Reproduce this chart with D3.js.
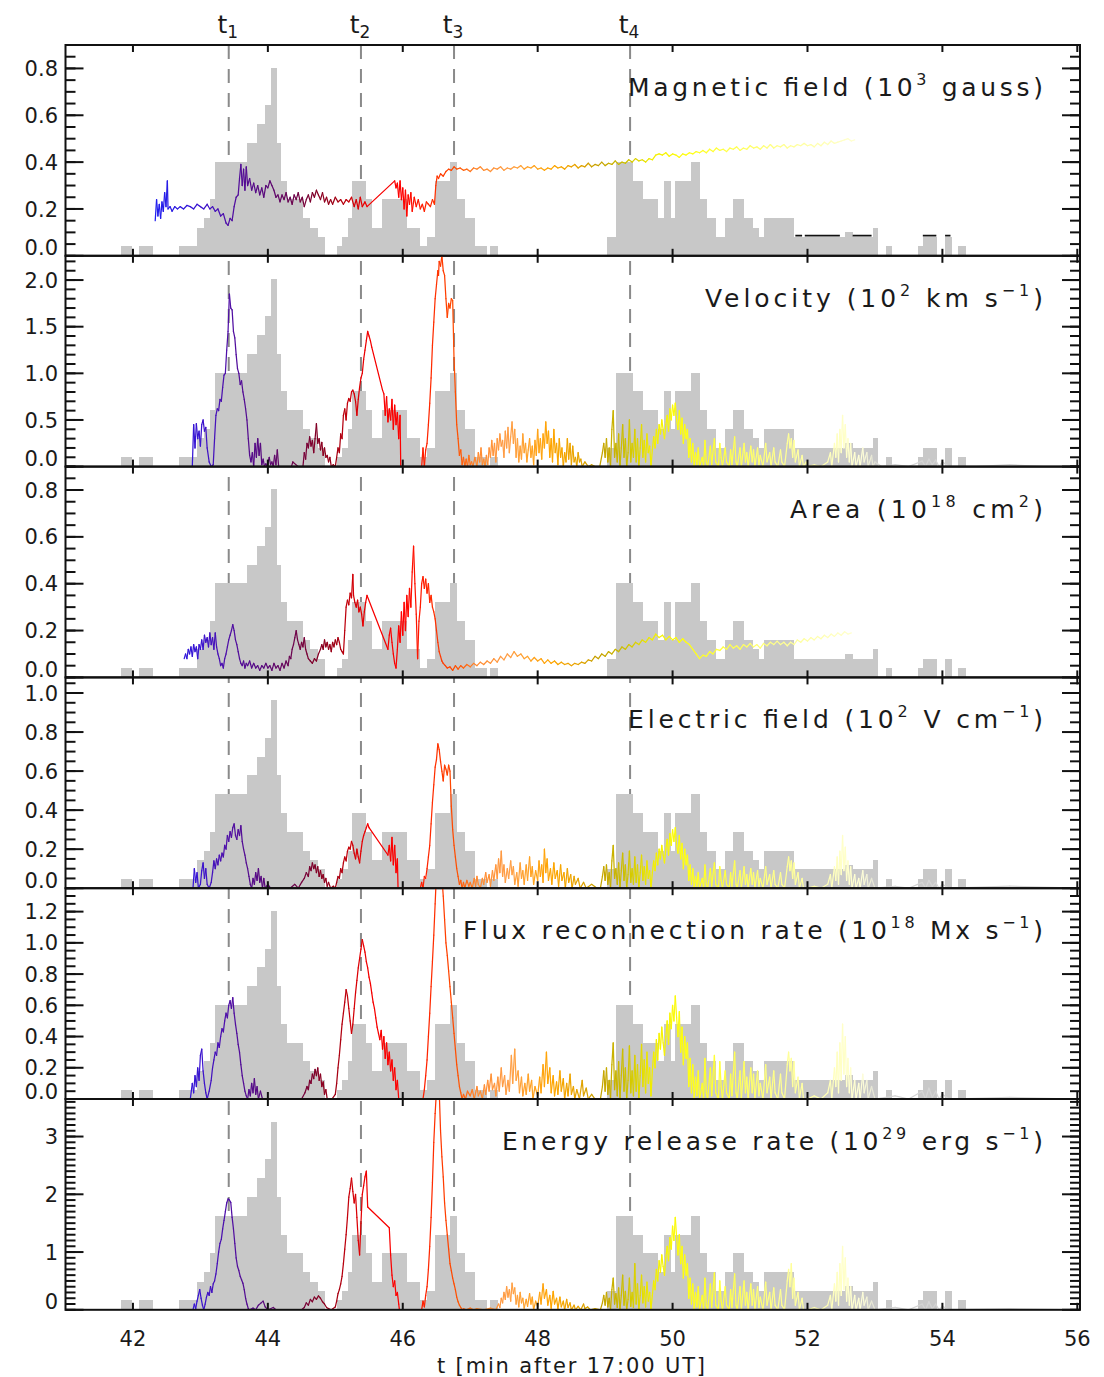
<!DOCTYPE html>
<html>
<head>
<meta charset="utf-8">
<script src="https://cdn.jsdelivr.net/npm/d3@7"></script>
<style>
body { margin: 0; background: #fff; }
text { font-family: "DejaVu Sans", sans-serif; fill: #1a1a1a; }
</style>
</head>
<body>
<script>
// ---- data ----

// x axis
var xTickValues = [42, 44, 46, 48, 50, 52, 54, 56];
var xTitle = "t [min after 17:00 UT]";

// vertical event markers
var markerTimes = [43.42, 45.38, 46.76, 49.37];
var markerSubs = ["1", "2", "3", "4"];

// grey histogram, same in every panel (bin edges in min, counts)
var histEdges = [41.818, 41.981, 42.090, 42.302, 42.682, 42.801, 42.949, 43.053, 43.142, 43.216,
  43.690, 43.839, 43.957, 44.046, 44.135, 44.195, 44.284, 44.432, 44.521, 44.625,
  44.743, 44.847, 45.025, 45.099, 45.188, 45.247, 45.455, 45.543, 45.692, 45.855,
  46.062, 46.255, 46.359, 46.478, 46.700, 46.804, 46.923, 47.071, 47.249, 47.294,
  47.412, 49.023, 49.161, 49.417, 49.565, 49.788, 49.872, 49.971, 50.035, 50.268,
  50.406, 50.514, 50.643, 50.776, 50.891, 51.058, 51.187, 51.285, 51.354, 51.631,
  51.799, 51.937, 52.555, 52.678, 52.966, 53.049, 53.163, 53.247, 53.633, 53.716,
  53.914, 54.037, 54.137, 54.234, 54.344];
var histCounts = [1, 0, 1, 0, 1, 1, 3, 4, 6,
  10, 12, 14, 16, 20, 12, 8, 6, 6, 4,
  3, 2, 0, 1, 2, 4, 8, 6, 3, 6,
  6, 3, 1, 2, 8, 10, 6, 4, 1, 0,
  1, 0, 2, 10, 8, 6, 4, 8, 4, 8,
  10, 6, 4, 2, 4, 6, 4, 3, 2, 4,
  4, 2, 2, 2.5, 2, 3, 0, 1, 0, 1,
  2, 0, 2, 0, 1];
var histFull = 22.42;   // counts that would fill a whole panel

// colour of the curves as a function of time
var colorTimes = [42.3, 43.0, 43.4, 43.9, 44.3, 44.7, 45.0, 45.25, 45.5, 46.0, 46.4, 46.8, 47.1, 47.6,
  48.2, 48.6, 48.9, 49.3, 49.7, 50.2, 50.9, 51.6, 52.3, 52.8, 53.1];
var colorValues = ["#2020f0", "#3a14d0", "#5010a8", "#580a80", "#6a0858", "#800028", "#a00014",
  "#d00008", "#f40000", "#ff0000", "#ff2800", "#ff5000", "#ff8a30", "#ffa048", "#ffa500", "#e6a400",
  "#c4a000", "#cdc000", "#f2ee00", "#ffff10", "#ffff50", "#ffff90", "#ffffb8", "#ffffd8", "#d4d4d4"];

// magnetic field (10^3 G)
var magData = [[42.33,0.15],[42.35,0.24],[42.37,0.17],[42.39,0.22],[42.41,0.16],[42.43,0.23],[42.45,0.19],
  [42.47,0.27],[42.49,0.21],[42.51,0.32],[42.52,0.20],[42.55,0.21],[42.58,0.19],[42.62,0.21],[42.66,0.20],
  [42.70,0.21],[42.75,0.20],[42.80,0.215],[42.85,0.21],[42.90,0.20],[42.95,0.22],[43.00,0.21],[43.05,0.20],
  [43.10,0.22],[43.14,0.20],[43.18,0.21],[43.22,0.19],[43.26,0.20],[43.30,0.17],[43.34,0.18],[43.38,0.14],
  [43.41,0.13],[43.44,0.16],[43.47,0.15],[43.50,0.21],[43.53,0.25],[43.56,0.26],[43.58,0.33],[43.60,0.39],
  [43.62,0.30],[43.64,0.37],[43.66,0.28],[43.68,0.38],[43.70,0.30],[43.73,0.33],[43.76,0.28],[43.79,0.31],
  [43.82,0.27],[43.85,0.30],[43.88,0.26],[43.91,0.29],[43.94,0.25],[43.97,0.30],[44.00,0.29],[44.03,0.32],
  [44.06,0.30],[44.09,0.28],[44.12,0.25],[44.15,0.26],[44.18,0.23],[44.21,0.26],[44.24,0.24],[44.27,0.27],
  [44.30,0.23],[44.33,0.25],[44.36,0.22],[44.39,0.26],[44.42,0.24],[44.45,0.27],[44.48,0.23],[44.51,0.25],
  [44.54,0.21],[44.57,0.24],[44.60,0.26],[44.63,0.23],[44.66,0.27],[44.69,0.25],[44.72,0.28],[44.75,0.26],
  [44.78,0.24],[44.81,0.27],[44.84,0.23],[44.87,0.25],[44.90,0.22],[44.93,0.24],[44.96,0.22],[45.00,0.25],
  [45.04,0.23],[45.08,0.24],[45.12,0.22],[45.16,0.24],[45.20,0.23],[45.24,0.25],[45.28,0.21],[45.31,0.24],
  [45.34,0.20],[45.37,0.25],[45.40,0.21],[45.44,0.23],[45.47,0.21],
  [45.88,0.32],[45.90,0.29],[45.92,0.31],[45.94,0.25],[45.96,0.32],[45.98,0.24],[46.00,0.29],[46.02,0.20],
  [46.04,0.28],[46.06,0.17],[46.08,0.26],[46.10,0.22],[46.12,0.27],[46.14,0.19],[46.17,0.25],[46.20,0.21],
  [46.23,0.24],[46.26,0.20],[46.29,0.22],[46.32,0.19],[46.35,0.23],[46.38,0.22],[46.41,0.21],[46.44,0.24],
  [46.47,0.22],[46.49,0.30],[46.51,0.34],[46.53,0.33],[46.56,0.35],[46.60,0.34],[46.64,0.36],[46.68,0.37],
  [46.72,0.365],[46.76,0.38],[46.80,0.37],[46.85,0.375],[46.90,0.365],[46.95,0.37],[47.00,0.36],[47.05,0.375],
  [47.10,0.37],[47.15,0.38],[47.20,0.365],[47.25,0.37],[47.30,0.36],[47.35,0.375],[47.40,0.37],[47.45,0.38],
  [47.50,0.365],[47.55,0.375],[47.60,0.37],[47.65,0.38],[47.70,0.375],[47.75,0.385],[47.80,0.37],[47.85,0.38],
  [47.90,0.375],[47.95,0.385],[48.00,0.37],[48.05,0.375],[48.10,0.365],[48.15,0.375],[48.20,0.37],[48.25,0.385],
  [48.30,0.375],[48.35,0.38],[48.40,0.37],[48.45,0.385],[48.50,0.38],[48.55,0.39],[48.60,0.375],[48.65,0.385],
  [48.70,0.38],[48.75,0.395],[48.80,0.38],[48.85,0.39],[48.90,0.385],[48.95,0.40],[49.00,0.385],[49.05,0.395],
  [49.10,0.39],[49.15,0.405],[49.20,0.39],[49.25,0.40],[49.30,0.395],[49.35,0.41],[49.40,0.40],[49.45,0.415],
  [49.50,0.405],[49.55,0.41],[49.60,0.40],[49.65,0.415],[49.70,0.41],[49.75,0.43],[49.80,0.435],[49.85,0.43],
  [49.90,0.44],[49.95,0.425],[50.00,0.435],[50.05,0.43],[50.10,0.42],[50.15,0.435],[50.20,0.43],[50.25,0.44],
  [50.30,0.435],[50.35,0.445],[50.40,0.44],[50.45,0.45],[50.50,0.44],[50.55,0.455],[50.60,0.445],[50.65,0.46],
  [50.70,0.45],[50.75,0.455],[50.80,0.445],[50.85,0.46],[50.90,0.455],[50.95,0.465],[51.00,0.45],[51.05,0.46],
  [51.10,0.455],[51.15,0.47],[51.20,0.46],[51.25,0.465],[51.30,0.455],[51.35,0.47],[51.40,0.46],[51.45,0.475],
  [51.50,0.46],[51.55,0.47],[51.60,0.465],[51.65,0.475],[51.70,0.46],[51.75,0.47],[51.80,0.465],[51.85,0.475],
  [51.90,0.47],[51.95,0.48],[52.00,0.47],[52.05,0.475],[52.10,0.465],[52.15,0.48],[52.20,0.47],[52.25,0.485],
  [52.30,0.475],[52.35,0.49],[52.40,0.48],[52.45,0.485],[52.50,0.49],[52.55,0.495],[52.60,0.50],[52.65,0.49],
  [52.70,0.495]];
// short black pieces near the bottom of the magnetic field panel
var magBlackSegs = [[51.82, 51.92], [51.96, 52.48], [52.67, 52.95], [53.71, 53.91], [54.04, 54.12]];
var magBlackLevel = 0.086;

// velocity (10^2 km/s)
var velData = [[42.88,0.0],[42.90,0.45],[42.92,0.20],[42.94,0.46],[42.96,0.30],[42.98,0.38],[43.00,0.22],
  [43.02,0.45],[43.04,0.50],[43.06,0.38],[43.08,0.42],[43.10,0.20],[43.13,0.05],[43.16,0.0],[43.19,0.02],
  [43.21,0.30],[43.23,0.55],[43.25,0.62],[43.27,0.60],[43.29,0.72],[43.31,0.70],[43.33,0.85],[43.35,0.98],
  [43.37,1.00],[43.39,1.25],[43.41,1.45],[43.43,1.85],[43.45,1.70],[43.47,1.68],[43.49,1.45],[43.51,1.38],
  [43.53,1.20],[43.55,1.05],[43.57,1.00],[43.59,0.88],[43.61,0.92],[43.63,0.80],[43.65,0.72],[43.67,0.62],
  [43.69,0.50],[43.71,0.30],[43.73,0.12],[43.75,0.05],[43.77,0.15],[43.79,0.0],[43.81,0.25],[43.83,0.10],
  [43.85,0.30],[43.87,0.12],[43.89,0.25],[43.91,0.02],[43.93,0.08],[43.95,0.0],[43.97,0.03],[43.99,0.0],
  [44.02,0.10],[44.04,0.02],[44.06,0.05],[44.08,0.0],[44.10,0.12],[44.12,0.02],[44.14,0.18],[44.16,0.0],
  [44.35,0.0],[44.37,0.05],[44.45,0.0],[44.52,0.0],[44.54,0.15],[44.56,0.08],[44.58,0.25],[44.60,0.20],
  [44.62,0.32],[44.64,0.22],[44.66,0.28],[44.68,0.15],[44.70,0.30],[44.72,0.46],[44.74,0.25],[44.76,0.30],
  [44.78,0.18],[44.80,0.26],[44.82,0.12],[44.84,0.20],[44.86,0.10],[44.88,0.12],[44.90,0.05],[44.92,0.10],
  [44.94,0.0],[44.97,0.02],[45.00,0.0],[45.02,0.10],[45.04,0.20],[45.06,0.15],[45.08,0.35],[45.10,0.30],
  [45.12,0.55],[45.14,0.62],[45.16,0.50],[45.18,0.68],[45.20,0.73],[45.22,0.70],[45.24,0.80],[45.26,0.82],
  [45.28,0.78],[45.30,0.70],[45.32,0.55],[45.34,0.72],[45.36,0.85],[45.38,0.95],[45.40,1.0],[45.42,1.15],
  [45.44,1.25],[45.46,1.35],[45.48,1.45],[45.50,1.40],[45.52,1.35],[45.54,1.28],[45.70,0.82],[45.72,0.78],
  [45.74,0.55],[45.76,0.75],[45.78,0.48],[45.80,0.62],[45.82,0.50],[45.84,0.72],[45.86,0.40],[45.88,0.66],
  [45.90,0.45],[45.92,0.58],[45.94,0.30],[45.96,0.55],[45.97,0.0],[46.28,0.0],[46.30,0.20],[46.32,0.0],
  [46.34,0.18],[46.36,0.25],[46.38,0.45],[46.40,0.68],[46.42,0.95],[46.44,1.30],[46.46,1.55],[46.48,1.80],
  [46.50,1.95],[46.52,2.10],[46.53,2.05],[46.54,2.20],[46.56,2.15],[46.58,2.26],[46.60,2.10],[46.62,2.05],
  [46.64,1.80],[46.66,1.60],[46.68,1.75],[46.70,1.70],[46.72,1.80],[46.74,1.78],[46.76,1.15],[46.78,0.80],
  [46.80,0.45],[46.82,0.30],[46.84,0.12],[46.86,0.18],[46.88,0.02],[46.90,0.10],[46.92,0.0],[46.94,0.08],
  [46.96,0.0],[46.98,0.12],[47.00,0.02],[47.02,0.05],[47.04,0.0],[47.07,0.10],[47.10,0.0],[47.12,0.15],
  [47.14,0.05],[47.16,0.20],[47.18,0.02],[47.20,0.08],[47.22,0.0],[47.24,0.12],[47.26,0.02],[47.28,0.20],
  [47.30,0.10],[47.32,0.28],[47.34,0.12],[47.36,0.25],[47.38,0.05],[47.40,0.30],[47.42,0.18],[47.44,0.35],
  [47.46,0.22],[47.48,0.28],[47.50,0.10],[47.52,0.38],[47.54,0.20],[47.56,0.42],[47.58,0.15],[47.60,0.32],
  [47.62,0.48],[47.64,0.25],[47.66,0.40],[47.68,0.10],[47.70,0.30],[47.72,0.05],[47.74,0.22],[47.76,0.08],
  [47.78,0.35],[47.80,0.15],[47.82,0.25],[47.84,0.05],[47.86,0.18],[47.88,0.30],[47.90,0.10],[47.92,0.22],
  [47.94,0.02],[47.96,0.28],[47.98,0.12],[48.00,0.40],[48.02,0.15],[48.04,0.30],[48.06,0.08],[48.08,0.35],
  [48.10,0.20],[48.12,0.48],[48.14,0.25],[48.16,0.38],[48.18,0.10],[48.20,0.30],[48.22,0.05],[48.24,0.40],
  [48.26,0.15],[48.28,0.25],[48.30,0.02],[48.32,0.30],[48.34,0.10],[48.36,0.20],[48.38,0.0],[48.40,0.15],
  [48.42,0.05],[48.44,0.30],[48.46,0.08],[48.48,0.25],[48.50,0.02],[48.52,0.22],[48.54,0.05],[48.56,0.10],
  [48.58,0.0],[48.60,0.15],[48.62,0.05],[48.64,0.08],[48.66,0.0],[48.70,0.05],[48.75,0.0],[48.80,0.02],
  [48.85,0.0],[48.92,0.0],[48.96,0.15],[48.98,0.25],[49.00,0.10],[49.02,0.30],[49.04,0.05],[49.06,0.20],
  [49.08,0.0],[49.10,0.40],[49.12,0.60],[49.14,0.10],[49.16,0.25],[49.18,0.05],[49.20,0.35],[49.22,0.0],
  [49.24,0.20],[49.26,0.45],[49.28,0.10],[49.30,0.30],[49.32,0.0],[49.34,0.15],[49.36,0.50],[49.38,0.05],
  [49.40,0.25],[49.42,0.10],[49.44,0.40],[49.46,0.05],[49.48,0.30],[49.50,0.0],[49.52,0.20],[49.54,0.45],
  [49.56,0.10],[49.58,0.28],[49.60,0.05],[49.62,0.35],[49.64,0.15],[49.66,0.22],[49.68,0.0],[49.70,0.18],
  [49.72,0.32],[49.74,0.20],[49.76,0.40],[49.78,0.25],[49.80,0.45],[49.82,0.35],[49.84,0.50],[49.86,0.40],
  [49.88,0.30],[49.90,0.45],[49.92,0.55],[49.94,0.38],[49.96,0.62],[49.98,0.50],[50.00,0.66],[50.02,0.55],
  [50.04,0.68],[50.06,0.50],[50.08,0.40],[50.10,0.60],[50.12,0.35],[50.14,0.52],[50.16,0.25],[50.18,0.45],
  [50.20,0.30],[50.22,0.40],[50.24,0.10],[50.26,0.30],[50.28,0.05],[50.30,0.25],[50.32,0.0],[50.34,0.15],
  [50.36,0.02],[50.38,0.20],[50.40,0.0],[50.44,0.10],[50.46,0.0],[50.48,0.28],[50.50,0.05],[50.52,0.0],
  [50.56,0.22],[50.58,0.02],[50.62,0.30],[50.64,0.05],[50.68,0.0],[50.70,0.25],[50.72,0.10],[50.74,0.0],
  [50.78,0.20],[50.80,0.05],[50.84,0.0],[50.86,0.18],[50.88,0.02],[50.92,0.32],[50.94,0.05],[50.96,0.0],
  [51.00,0.20],[51.02,0.0],[51.06,0.25],[51.08,0.05],[51.10,0.15],[51.12,0.0],[51.16,0.22],[51.18,0.05],
  [51.20,0.18],[51.22,0.0],[51.26,0.20],[51.28,0.02],[51.30,0.12],[51.34,0.0],[51.38,0.25],[51.40,0.05],
  [51.44,0.15],[51.46,0.0],[51.50,0.20],[51.52,0.05],[51.56,0.0],[51.60,0.18],[51.62,0.05],[51.66,0.0],
  [51.70,0.25],[51.72,0.35],[51.74,0.20],[51.76,0.30],[51.78,0.10],[51.80,0.28],[51.82,0.05],[51.86,0.18],
  [51.88,0.0],[51.92,0.12],[51.94,0.0],[51.98,0.05],[52.00,0.0],[52.10,0.02],[52.20,0.0],[52.30,0.05],
  [52.34,0.15],[52.36,0.0],[52.40,0.25],[52.42,0.10],[52.44,0.35],[52.46,0.05],[52.48,0.40],[52.50,0.15],
  [52.52,0.55],[52.54,0.20],[52.56,0.45],[52.58,0.10],[52.60,0.30],[52.62,0.05],[52.64,0.25],[52.66,0.0],
  [52.70,0.15],[52.72,0.0],[52.76,0.12],[52.78,0.0],[52.82,0.20],[52.84,0.05],[52.88,0.15],[52.90,0.0],
  [52.95,0.12],[52.97,0.0],[53.00,0.05],[53.10,0.0],[53.30,0.02],[53.50,0.0],[53.70,0.06],[53.75,0.0],
  [53.80,0.08],[53.85,0.02],[53.90,0.07],[53.95,0.0],[54.00,0.05],[54.10,0.0],[54.50,0.0],[55.00,0.02],
  [55.50,0.0],[56.00,0.0]];

// area (10^18 cm^2)
var areaData = [[42.76,0.08],[42.78,0.10],[42.80,0.08],[42.82,0.12],[42.84,0.10],[42.86,0.13],[42.88,0.09],
  [42.90,0.14],[42.92,0.11],[42.94,0.13],[42.96,0.08],[42.98,0.14],[43.00,0.12],[43.02,0.16],[43.04,0.12],
  [43.06,0.18],[43.08,0.15],[43.10,0.17],[43.12,0.13],[43.14,0.19],[43.16,0.14],[43.18,0.17],[43.20,0.12],
  [43.22,0.19],[43.24,0.13],[43.26,0.10],[43.28,0.08],[43.30,0.05],[43.32,0.06],[43.34,0.04],[43.36,0.08],
  [43.38,0.10],[43.40,0.13],[43.42,0.16],[43.44,0.18],[43.46,0.20],[43.48,0.225],[43.50,0.20],[43.52,0.16],
  [43.54,0.14],[43.56,0.11],[43.58,0.08],[43.60,0.06],[43.62,0.05],[43.64,0.07],[43.66,0.04],[43.68,0.06],
  [43.70,0.05],[43.73,0.07],[43.76,0.04],[43.79,0.06],[43.82,0.04],[43.85,0.05],[43.88,0.03],[43.91,0.05],
  [43.94,0.04],[43.97,0.06],[44.00,0.04],[44.03,0.05],[44.06,0.03],[44.09,0.06],[44.12,0.04],[44.15,0.05],
  [44.18,0.03],[44.21,0.06],[44.24,0.04],[44.27,0.07],[44.30,0.05],[44.32,0.09],[44.34,0.08],[44.36,0.12],
  [44.38,0.14],[44.40,0.17],[44.42,0.20],[44.44,0.16],[44.46,0.14],[44.48,0.12],[44.50,0.15],[44.52,0.13],
  [44.54,0.17],[44.56,0.12],[44.58,0.10],[44.60,0.08],[44.63,0.07],[44.66,0.06],[44.69,0.08],[44.72,0.07],
  [44.75,0.10],[44.78,0.12],[44.80,0.14],[44.82,0.12],[44.84,0.16],[44.86,0.13],[44.88,0.15],[44.90,0.12],
  [44.92,0.14],[44.94,0.11],[44.96,0.15],[44.98,0.13],[45.00,0.16],[45.02,0.14],[45.04,0.17],[45.06,0.15],
  [45.08,0.12],[45.10,0.11],[45.12,0.10],[45.14,0.20],[45.16,0.30],[45.18,0.33],[45.20,0.31],[45.22,0.36],
  [45.24,0.34],[45.26,0.44],[45.27,0.35],[45.29,0.32],[45.31,0.30],[45.33,0.33],[45.35,0.28],[45.37,0.30],
  [45.39,0.27],[45.41,0.22],[45.43,0.28],[45.45,0.32],[45.47,0.35],[45.78,0.12],[45.80,0.18],[45.82,0.21],
  [45.84,0.15],[45.86,0.10],[45.88,0.06],[45.90,0.04],[45.92,0.12],[45.94,0.22],[45.96,0.15],[45.98,0.28],
  [46.00,0.18],[46.02,0.32],[46.04,0.20],[46.06,0.35],[46.08,0.26],[46.10,0.38],[46.12,0.30],[46.14,0.45],
  [46.16,0.56],[46.18,0.40],[46.20,0.27],[46.22,0.08],[46.24,0.24],[46.26,0.30],[46.28,0.40],[46.30,0.43],
  [46.32,0.38],[46.34,0.42],[46.36,0.36],[46.38,0.40],[46.40,0.32],[46.42,0.35],[46.44,0.30],[46.46,0.28],
  [46.48,0.25],[46.50,0.20],[46.52,0.15],[46.54,0.11],[46.56,0.09],[46.58,0.07],[46.60,0.06],[46.63,0.05],
  [46.66,0.04],[46.70,0.045],[46.74,0.03],[46.78,0.05],[46.82,0.035],[46.86,0.05],[46.90,0.04],[46.95,0.055],
  [47.00,0.045],[47.05,0.06],[47.10,0.05],[47.15,0.065],[47.20,0.055],[47.25,0.07],[47.30,0.06],[47.35,0.08],
  [47.40,0.065],[47.45,0.09],[47.50,0.075],[47.55,0.10],[47.60,0.085],[47.65,0.11],[47.70,0.09],[47.75,0.10],
  [47.80,0.08],[47.85,0.09],[47.90,0.07],[47.95,0.085],[48.00,0.07],[48.05,0.08],[48.10,0.06],[48.15,0.075],
  [48.20,0.06],[48.25,0.07],[48.30,0.055],[48.35,0.065],[48.40,0.055],[48.45,0.06],[48.50,0.05],[48.55,0.06],
  [48.60,0.055],[48.65,0.065],[48.70,0.06],[48.75,0.075],[48.80,0.07],[48.85,0.09],[48.90,0.08],[48.95,0.10],
  [49.00,0.09],[49.05,0.11],[49.10,0.10],[49.15,0.12],[49.20,0.11],[49.25,0.13],[49.30,0.12],[49.35,0.14],
  [49.40,0.13],[49.45,0.15],[49.50,0.14],[49.55,0.16],[49.60,0.15],[49.65,0.17],[49.70,0.16],[49.75,0.185],
  [49.80,0.17],[49.85,0.18],[49.90,0.16],[49.95,0.175],[50.00,0.16],[50.05,0.17],[50.10,0.15],[50.15,0.165],
  [50.20,0.15],[50.25,0.14],[50.30,0.12],[50.35,0.10],[50.40,0.08],[50.45,0.095],[50.50,0.09],[50.55,0.11],
  [50.60,0.10],[50.65,0.12],[50.70,0.115],[50.75,0.13],[50.80,0.12],[50.85,0.14],[50.90,0.125],[50.95,0.135],
  [51.00,0.12],[51.05,0.14],[51.10,0.13],[51.15,0.145],[51.20,0.13],[51.25,0.14],[51.30,0.125],[51.35,0.145],
  [51.40,0.135],[51.45,0.15],[51.50,0.14],[51.55,0.155],[51.60,0.14],[51.65,0.15],[51.70,0.135],[51.75,0.15],
  [51.80,0.14],[51.85,0.16],[51.90,0.15],[51.95,0.165],[52.00,0.155],[52.05,0.17],[52.10,0.16],[52.15,0.175],
  [52.20,0.165],[52.25,0.18],[52.30,0.17],[52.35,0.185],[52.40,0.175],[52.45,0.19],[52.50,0.18],[52.55,0.195],
  [52.60,0.185],[52.65,0.19]];

// electric field (10^2 V/cm)
var efieldData = [[42.89,0.0],[42.91,0.10],[42.93,0.03],[42.95,0.08],[42.97,0.0],[43.00,0.02],[43.02,0.09],
  [43.04,0.13],[43.06,0.05],[43.08,0.10],[43.10,0.02],[43.13,0.0],[43.16,0.03],[43.18,0.08],[43.20,0.14],
  [43.22,0.10],[43.24,0.15],[43.26,0.12],[43.28,0.17],[43.30,0.14],[43.32,0.18],[43.34,0.16],[43.36,0.22],
  [43.38,0.20],[43.40,0.27],[43.42,0.24],[43.44,0.29],[43.46,0.26],[43.48,0.31],[43.50,0.33],[43.52,0.27],
  [43.54,0.25],[43.56,0.30],[43.58,0.27],[43.60,0.32],[43.62,0.24],[43.64,0.20],[43.66,0.17],[43.68,0.13],
  [43.70,0.10],[43.72,0.06],[43.74,0.02],[43.76,0.0],[43.78,0.05],[43.80,0.02],[43.82,0.08],[43.84,0.04],
  [43.86,0.10],[43.88,0.03],[43.90,0.06],[43.92,0.0],[43.94,0.05],[43.96,0.0],[44.00,0.02],[44.04,0.0],
  [44.33,0.0],[44.40,0.02],[44.45,0.0],[44.50,0.03],[44.54,0.05],[44.57,0.08],[44.60,0.06],[44.62,0.11],
  [44.64,0.09],[44.66,0.13],[44.68,0.10],[44.70,0.12],[44.72,0.08],[44.74,0.11],[44.76,0.06],[44.78,0.09],
  [44.80,0.05],[44.82,0.07],[44.84,0.03],[44.86,0.05],[44.88,0.01],[44.90,0.03],[44.93,0.0],[44.97,0.01],
  [45.00,0.0],[45.02,0.03],[45.04,0.06],[45.06,0.05],[45.08,0.10],[45.10,0.08],[45.12,0.13],[45.14,0.16],
  [45.16,0.14],[45.18,0.19],[45.20,0.21],[45.22,0.20],[45.24,0.24],[45.26,0.22],[45.28,0.18],[45.30,0.15],
  [45.32,0.20],[45.34,0.16],[45.36,0.13],[45.38,0.19],[45.40,0.24],[45.42,0.27],[45.44,0.29],[45.46,0.31],
  [45.48,0.33],[45.50,0.31],[45.78,0.17],[45.80,0.22],[45.82,0.14],[45.84,0.26],[45.86,0.12],[45.88,0.22],
  [45.90,0.08],[45.92,0.15],[45.93,0.0],[46.26,0.0],[46.28,0.03],[46.30,0.0],[46.32,0.06],[46.34,0.05],
  [46.36,0.10],[46.38,0.16],[46.40,0.22],[46.42,0.33],[46.44,0.44],[46.46,0.53],[46.48,0.62],[46.50,0.66],
  [46.52,0.74],[46.54,0.71],[46.56,0.65],[46.58,0.60],[46.60,0.55],[46.62,0.63],[46.64,0.61],[46.66,0.58],
  [46.68,0.63],[46.70,0.60],[46.72,0.42],[46.74,0.30],[46.76,0.22],[46.78,0.16],[46.80,0.10],[46.82,0.06],
  [46.84,0.02],[46.86,0.04],[46.88,0.0],[46.90,0.03],[46.92,0.0],[46.95,0.04],[46.98,0.01],[47.00,0.03],
  [47.03,0.0],[47.06,0.05],[47.08,0.01],[47.10,0.06],[47.12,0.02],[47.15,0.0],[47.18,0.05],[47.20,0.02],
  [47.23,0.08],[47.25,0.03],[47.28,0.07],[47.30,0.01],[47.33,0.09],[47.35,0.04],[47.38,0.12],[47.40,0.05],
  [47.42,0.15],[47.44,0.08],[47.46,0.19],[47.48,0.06],[47.50,0.12],[47.52,0.03],[47.55,0.10],[47.57,0.05],
  [47.60,0.14],[47.62,0.07],[47.64,0.11],[47.66,0.02],[47.69,0.08],[47.71,0.01],[47.74,0.13],[47.76,0.05],
  [47.78,0.09],[47.80,0.02],[47.83,0.12],[47.85,0.04],[47.88,0.16],[47.90,0.06],[47.92,0.11],[47.94,0.02],
  [47.97,0.09],[48.00,0.04],[48.02,0.14],[48.04,0.06],[48.06,0.12],[48.08,0.03],[48.10,0.20],[48.12,0.08],
  [48.14,0.15],[48.16,0.04],[48.19,0.10],[48.21,0.02],[48.24,0.13],[48.26,0.05],[48.29,0.09],[48.31,0.01],
  [48.34,0.12],[48.36,0.04],[48.39,0.08],[48.41,0.0],[48.44,0.10],[48.46,0.03],[48.49,0.07],[48.51,0.0],
  [48.54,0.06],[48.56,0.02],[48.60,0.05],[48.63,0.0],[48.68,0.03],[48.72,0.0],[48.80,0.02],[48.88,0.0],
  [48.93,0.0],[48.96,0.06],[48.98,0.11],[49.00,0.04],[49.02,0.12],[49.04,0.02],[49.06,0.08],[49.08,0.0],
  [49.10,0.14],[49.12,0.22],[49.14,0.05],[49.16,0.10],[49.18,0.02],[49.20,0.13],[49.22,0.0],[49.24,0.09],
  [49.26,0.18],[49.28,0.04],[49.30,0.12],[49.32,0.0],[49.34,0.07],[49.36,0.19],[49.38,0.03],[49.40,0.10],
  [49.42,0.02],[49.44,0.16],[49.46,0.03],[49.48,0.12],[49.50,0.0],[49.52,0.08],[49.54,0.17],[49.56,0.04],
  [49.58,0.11],[49.60,0.02],[49.62,0.14],[49.64,0.05],[49.66,0.09],[49.68,0.0],[49.70,0.08],[49.72,0.14],
  [49.74,0.09],[49.76,0.18],[49.78,0.12],[49.80,0.20],[49.82,0.15],[49.84,0.22],[49.86,0.17],[49.88,0.13],
  [49.90,0.20],[49.92,0.25],[49.94,0.17],[49.96,0.28],[49.98,0.22],[50.00,0.30],[50.02,0.24],[50.04,0.31],
  [50.06,0.22],[50.08,0.18],[50.10,0.27],[50.12,0.15],[50.14,0.23],[50.16,0.10],[50.18,0.20],[50.20,0.12],
  [50.22,0.17],[50.24,0.04],[50.26,0.12],[50.28,0.02],[50.30,0.10],[50.32,0.0],[50.34,0.06],[50.36,0.01],
  [50.38,0.08],[50.40,0.0],[50.44,0.05],[50.46,0.0],[50.48,0.12],[50.50,0.02],[50.52,0.0],[50.56,0.10],
  [50.58,0.01],[50.62,0.13],[50.64,0.02],[50.68,0.0],[50.70,0.11],[50.72,0.04],[50.74,0.0],[50.78,0.09],
  [50.80,0.02],[50.84,0.0],[50.86,0.08],[50.88,0.01],[50.92,0.14],[50.94,0.02],[50.96,0.0],[51.00,0.09],
  [51.02,0.0],[51.06,0.11],[51.08,0.02],[51.10,0.07],[51.12,0.0],[51.16,0.10],[51.18,0.02],[51.20,0.08],
  [51.22,0.0],[51.26,0.09],[51.28,0.01],[51.30,0.05],[51.34,0.0],[51.38,0.11],[51.40,0.02],[51.44,0.07],
  [51.46,0.0],[51.50,0.09],[51.52,0.02],[51.56,0.0],[51.60,0.08],[51.62,0.02],[51.66,0.0],[51.70,0.11],
  [51.72,0.16],[51.74,0.09],[51.76,0.14],[51.78,0.05],[51.80,0.13],[51.82,0.02],[51.86,0.08],[51.88,0.0],
  [51.92,0.05],[51.94,0.0],[52.00,0.0],[52.10,0.01],[52.20,0.0],[52.30,0.02],[52.34,0.07],[52.36,0.0],
  [52.40,0.11],[52.42,0.04],[52.44,0.16],[52.46,0.02],[52.48,0.19],[52.50,0.07],[52.52,0.27],[52.54,0.09],
  [52.56,0.21],[52.58,0.04],[52.60,0.14],[52.62,0.02],[52.64,0.11],[52.66,0.0],[52.70,0.07],[52.72,0.0],
  [52.76,0.05],[52.78,0.0],[52.82,0.09],[52.84,0.02],[52.88,0.07],[52.90,0.0],[52.95,0.05],[53.00,0.0],
  [53.30,0.01],[53.50,0.0],[53.70,0.03],[53.75,0.0],[53.80,0.04],[53.85,0.01],[53.90,0.03],[53.95,0.0],
  [54.00,0.02],[54.10,0.0],[55.00,0.01],[56.00,0.0]];

// flux reconnection rate (10^18 Mx/s)
var fluxData = [[42.85,0.0],[42.88,0.10],[42.90,0.04],[42.92,0.15],[42.94,0.08],[42.96,0.20],[42.98,0.12],
  [43.00,0.28],[43.02,0.32],[43.04,0.18],[43.06,0.10],[43.08,0.04],[43.10,0.0],[43.13,0.05],[43.16,0.12],
  [43.18,0.20],[43.20,0.25],[43.22,0.30],[43.24,0.28],[43.26,0.36],[43.28,0.33],[43.30,0.40],[43.32,0.45],
  [43.34,0.43],[43.36,0.50],[43.38,0.55],[43.40,0.52],[43.42,0.60],[43.44,0.63],[43.46,0.58],[43.48,0.65],
  [43.50,0.55],[43.52,0.48],[43.54,0.42],[43.56,0.35],[43.58,0.30],[43.60,0.22],[43.62,0.15],[43.64,0.10],
  [43.66,0.05],[43.68,0.02],[43.70,0.0],[43.72,0.06],[43.74,0.02],[43.76,0.10],[43.78,0.04],[43.80,0.13],
  [43.82,0.03],[43.84,0.08],[43.86,0.0],[43.89,0.05],[43.92,0.0],[44.00,0.0],[44.50,0.0],[44.55,0.04],
  [44.58,0.08],[44.60,0.06],[44.62,0.12],[44.64,0.10],[44.66,0.16],[44.68,0.13],[44.70,0.19],[44.72,0.15],
  [44.74,0.20],[44.76,0.12],[44.78,0.16],[44.80,0.08],[44.82,0.11],[44.84,0.03],[44.86,0.06],[44.88,0.0],
  [44.95,0.0],[45.00,0.03],[45.02,0.10],[45.04,0.20],[45.06,0.28],[45.08,0.38],[45.10,0.48],[45.12,0.55],
  [45.14,0.62],[45.16,0.70],[45.18,0.66],[45.20,0.58],[45.22,0.50],[45.24,0.42],[45.26,0.48],[45.28,0.58],
  [45.30,0.68],[45.32,0.76],[45.34,0.84],[45.36,0.90],[45.38,0.96],[45.40,1.02],[45.42,0.98],[45.44,0.94],
  [45.46,0.88],[45.48,0.84],[45.50,0.78],[45.52,0.74],[45.54,0.68],[45.56,0.62],[45.58,0.58],[45.60,0.52],
  [45.62,0.46],[45.64,0.42],[45.66,0.38],[45.68,0.44],[45.70,0.32],[45.72,0.40],[45.74,0.26],[45.76,0.36],
  [45.78,0.22],[45.80,0.30],[45.82,0.18],[45.84,0.25],[45.86,0.12],[45.88,0.20],[45.90,0.06],[45.92,0.12],
  [45.94,0.0],[46.30,0.0],[46.32,0.06],[46.34,0.15],[46.36,0.25],[46.38,0.40],[46.40,0.55],[46.42,0.72],
  [46.44,0.88],[46.46,1.05],[46.48,1.25],[46.50,1.45],[46.52,1.50],[46.54,1.48],[46.56,1.50],[46.58,1.42],
  [46.60,1.30],[46.62,1.15],[46.64,1.0],[46.66,0.92],[46.68,0.82],[46.70,0.72],[46.72,0.62],[46.74,0.52],
  [46.76,0.42],[46.78,0.32],[46.80,0.22],[46.82,0.15],[46.84,0.08],[46.86,0.04],[46.88,0.0],[46.90,0.03],
  [46.93,0.0],[46.96,0.05],[47.00,0.02],[47.03,0.06],[47.06,0.0],[47.10,0.08],[47.12,0.02],[47.15,0.05],
  [47.18,0.0],[47.21,0.09],[47.23,0.03],[47.26,0.12],[47.28,0.05],[47.31,0.16],[47.33,0.06],[47.36,0.10],
  [47.38,0.02],[47.41,0.14],[47.43,0.05],[47.46,0.20],[47.48,0.08],[47.51,0.15],[47.53,0.03],[47.56,0.12],
  [47.58,0.05],[47.61,0.28],[47.63,0.10],[47.66,0.32],[47.68,0.12],[47.71,0.18],[47.73,0.04],[47.76,0.14],
  [47.78,0.02],[47.81,0.10],[47.83,0.03],[47.86,0.16],[47.88,0.05],[47.91,0.12],[47.93,0.0],[47.96,0.08],
  [48.00,0.02],[48.03,0.14],[48.05,0.04],[48.08,0.22],[48.10,0.08],[48.13,0.30],[48.15,0.10],[48.18,0.20],
  [48.20,0.04],[48.23,0.15],[48.25,0.02],[48.28,0.11],[48.30,0.03],[48.33,0.18],[48.35,0.05],[48.38,0.13],
  [48.40,0.0],[48.43,0.10],[48.45,0.02],[48.48,0.16],[48.50,0.03],[48.53,0.08],[48.55,0.0],[48.58,0.06],
  [48.62,0.0],[48.66,0.12],[48.68,0.02],[48.72,0.07],[48.75,0.0],[48.80,0.03],[48.85,0.0],[48.93,0.0],
  [48.96,0.08],[48.98,0.18],[49.00,0.05],[49.02,0.20],[49.04,0.03],[49.06,0.12],[49.08,0.0],[49.10,0.22],
  [49.12,0.36],[49.14,0.06],[49.16,0.18],[49.18,0.02],[49.20,0.24],[49.22,0.0],[49.24,0.15],[49.26,0.32],
  [49.28,0.05],[49.30,0.20],[49.32,0.0],[49.34,0.12],[49.36,0.34],[49.38,0.04],[49.40,0.18],[49.42,0.02],
  [49.44,0.28],[49.46,0.05],[49.48,0.22],[49.50,0.0],[49.52,0.15],[49.54,0.35],[49.56,0.08],[49.58,0.25],
  [49.60,0.04],[49.62,0.30],[49.64,0.10],[49.66,0.20],[49.68,0.02],[49.70,0.18],[49.72,0.30],[49.74,0.20],
  [49.76,0.38],[49.78,0.25],[49.80,0.42],[49.82,0.32],[49.84,0.46],[49.86,0.36],[49.88,0.28],[49.90,0.40],
  [49.92,0.50],[49.94,0.35],[49.96,0.55],[49.98,0.45],[50.00,0.60],[50.02,0.50],[50.04,0.66],[50.06,0.52],
  [50.08,0.40],[50.10,0.56],[50.12,0.30],[50.14,0.46],[50.16,0.22],[50.18,0.40],[50.20,0.26],[50.22,0.36],
  [50.24,0.08],[50.26,0.26],[50.28,0.04],[50.30,0.22],[50.32,0.0],[50.34,0.14],[50.36,0.02],[50.38,0.18],
  [50.40,0.0],[50.44,0.10],[50.46,0.0],[50.48,0.26],[50.50,0.04],[50.52,0.0],[50.56,0.20],[50.58,0.02],
  [50.62,0.28],[50.64,0.04],[50.68,0.0],[50.70,0.24],[50.72,0.08],[50.74,0.0],[50.78,0.18],[50.80,0.04],
  [50.84,0.0],[50.86,0.16],[50.88,0.02],[50.92,0.30],[50.94,0.04],[50.96,0.0],[51.00,0.18],[51.02,0.0],
  [51.06,0.24],[51.08,0.04],[51.10,0.14],[51.12,0.0],[51.16,0.20],[51.18,0.04],[51.20,0.16],[51.22,0.0],
  [51.26,0.18],[51.28,0.02],[51.30,0.10],[51.34,0.0],[51.38,0.22],[51.40,0.04],[51.44,0.14],[51.46,0.0],
  [51.50,0.18],[51.52,0.04],[51.56,0.0],[51.60,0.16],[51.62,0.04],[51.66,0.0],[51.70,0.22],[51.72,0.30],
  [51.74,0.18],[51.76,0.26],[51.78,0.08],[51.80,0.24],[51.82,0.04],[51.86,0.14],[51.88,0.0],[51.92,0.10],
  [51.94,0.0],[52.00,0.0],[52.10,0.02],[52.20,0.0],[52.30,0.04],[52.34,0.12],[52.36,0.0],[52.40,0.20],
  [52.42,0.08],[52.44,0.30],[52.46,0.04],[52.48,0.36],[52.50,0.12],[52.52,0.48],[52.54,0.16],[52.56,0.40],
  [52.58,0.08],[52.60,0.26],[52.62,0.04],[52.64,0.20],[52.66,0.0],[52.70,0.12],[52.72,0.0],[52.76,0.10],
  [52.78,0.0],[52.82,0.16],[52.84,0.04],[52.88,0.12],[52.90,0.0],[52.95,0.08],[53.00,0.0],[53.30,0.02],
  [53.50,0.0],[53.70,0.05],[53.75,0.0],[53.80,0.07],[53.85,0.01],[53.90,0.05],[53.95,0.0],[54.00,0.03],
  [54.10,0.0],[55.00,0.01],[56.00,0.0]];

// energy release rate (10^29 erg/s)
var energyData = [[42.89,0.0],[42.91,0.10],[42.93,0.02],[42.95,0.15],[42.97,0.25],[42.99,0.35],[43.01,0.20],
  [43.03,0.08],[43.05,0.0],[43.07,0.10],[43.09,0.22],[43.11,0.30],[43.13,0.25],[43.15,0.40],[43.17,0.30],
  [43.19,0.45],[43.21,0.50],[43.23,0.62],[43.25,0.80],[43.27,1.00],[43.29,1.15],[43.31,1.22],[43.33,1.40],
  [43.35,1.55],[43.37,1.70],[43.39,1.85],[43.41,1.92],[43.43,1.90],[43.45,1.86],[43.47,1.60],[43.49,1.40],
  [43.51,1.15],[43.53,0.90],[43.55,0.75],[43.57,0.68],[43.59,0.58],[43.61,0.52],[43.63,0.46],[43.65,0.35],
  [43.67,0.20],[43.69,0.10],[43.71,0.02],[43.73,0.0],[43.78,0.03],[43.82,0.0],[43.86,0.08],[43.90,0.12],
  [43.93,0.15],[43.96,0.05],[44.00,0.0],[44.08,0.04],[44.12,0.0],[44.50,0.0],[44.54,0.04],[44.57,0.12],
  [44.60,0.08],[44.63,0.18],[44.66,0.14],[44.69,0.22],[44.72,0.18],[44.75,0.24],[44.78,0.20],[44.81,0.14],
  [44.84,0.10],[44.87,0.04],[44.90,0.02],[44.94,0.0],[45.00,0.05],[45.02,0.15],[45.04,0.28],[45.06,0.35],
  [45.08,0.45],[45.10,0.58],[45.12,0.80],[45.14,1.05],[45.16,1.30],[45.18,1.60],[45.20,1.95],[45.22,2.10],
  [45.24,2.28],[45.26,2.05],[45.28,1.85],[45.30,2.00],[45.32,1.60],[45.34,1.20],[45.36,0.95],[45.38,1.50],
  [45.40,2.00],[45.42,2.15],[45.44,2.30],[45.46,2.40],[45.48,1.78],[45.80,1.42],[45.82,0.95],[45.84,0.60],
  [45.86,0.40],[45.88,0.50],[45.90,0.25],[45.92,0.30],[45.94,0.10],[45.95,0.0],[46.28,0.0],[46.30,0.15],
  [46.32,0.05],[46.34,0.25],[46.36,0.40],[46.38,0.70],[46.40,1.10],[46.42,1.60],[46.44,2.20],[46.46,2.90],
  [46.48,3.40],[46.50,3.80],[46.52,3.90],[46.54,3.80],[46.56,3.10],[46.58,2.65],[46.60,2.30],[46.62,1.85],
  [46.64,1.55],[46.66,1.30],[46.68,1.05],[46.70,0.80],[46.72,0.68],[46.74,0.55],[46.76,0.45],[46.78,0.35],
  [46.80,0.22],[46.82,0.14],[46.84,0.08],[46.86,0.04],[46.88,0.0],[46.90,0.02],[46.94,0.0],[47.00,0.03],
  [47.05,0.0],[47.10,0.02],[47.20,0.0],[47.30,0.03],[47.38,0.0],[47.42,0.10],[47.44,0.04],[47.46,0.20],
  [47.48,0.12],[47.50,0.30],[47.52,0.18],[47.54,0.40],[47.56,0.22],[47.58,0.35],[47.60,0.15],[47.62,0.46],
  [47.64,0.28],[47.66,0.38],[47.68,0.10],[47.70,0.25],[47.72,0.05],[47.74,0.30],[47.76,0.12],[47.78,0.20],
  [47.80,0.03],[47.83,0.18],[47.85,0.06],[47.88,0.28],[47.90,0.10],[47.92,0.22],[47.94,0.0],[47.97,0.15],
  [48.00,0.05],[48.03,0.30],[48.05,0.10],[48.08,0.45],[48.10,0.20],[48.13,0.35],[48.15,0.08],[48.18,0.25],
  [48.20,0.03],[48.23,0.32],[48.25,0.10],[48.28,0.20],[48.30,0.02],[48.33,0.22],[48.35,0.05],[48.38,0.15],
  [48.40,0.0],[48.43,0.18],[48.45,0.04],[48.48,0.12],[48.50,0.0],[48.54,0.08],[48.56,0.0],[48.60,0.06],
  [48.64,0.0],[48.68,0.10],[48.70,0.02],[48.74,0.05],[48.78,0.0],[48.85,0.02],[48.93,0.0],[48.96,0.12],
  [48.98,0.25],[49.00,0.08],[49.02,0.30],[49.04,0.05],[49.06,0.20],[49.08,0.0],[49.10,0.35],[49.12,0.55],
  [49.14,0.10],[49.16,0.28],[49.18,0.04],[49.20,0.38],[49.22,0.0],[49.24,0.25],[49.26,0.60],[49.28,0.08],
  [49.30,0.32],[49.32,0.0],[49.34,0.18],[49.36,0.55],[49.38,0.06],[49.40,0.30],[49.42,0.04],[49.44,0.80],
  [49.46,0.10],[49.48,0.45],[49.50,0.0],[49.52,0.25],[49.54,0.60],[49.56,0.12],[49.58,0.40],[49.60,0.05],
  [49.62,0.48],[49.64,0.15],[49.66,0.30],[49.68,0.02],[49.70,0.25],[49.72,0.50],[49.74,0.35],[49.76,0.70],
  [49.78,0.50],[49.80,0.85],[49.82,0.65],[49.84,0.95],[49.86,0.75],[49.88,0.60],[49.90,0.90],[49.92,1.10],
  [49.94,0.85],[49.96,1.25],[49.98,1.05],[50.00,1.45],[50.02,1.20],[50.04,1.60],[50.06,1.25],[50.08,0.95],
  [50.10,1.30],[50.12,0.80],[50.14,1.10],[50.16,0.55],[50.18,0.95],[50.20,0.60],[50.22,0.80],[50.24,0.20],
  [50.26,0.55],[50.28,0.10],[50.30,0.45],[50.32,0.0],[50.34,0.30],[50.36,0.05],[50.38,0.40],[50.40,0.0],
  [50.44,0.25],[50.46,0.0],[50.48,0.55],[50.50,0.08],[50.52,0.0],[50.56,0.45],[50.58,0.04],[50.62,0.64],
  [50.64,0.08],[50.68,0.0],[50.70,0.50],[50.72,0.15],[50.74,0.0],[50.78,0.40],[50.80,0.08],[50.84,0.0],
  [50.86,0.35],[50.88,0.04],[50.92,0.62],[50.94,0.08],[50.96,0.0],[51.00,0.40],[51.02,0.0],[51.06,0.50],
  [51.08,0.08],[51.10,0.30],[51.12,0.0],[51.16,0.45],[51.18,0.08],[51.20,0.35],[51.22,0.0],[51.26,0.40],
  [51.28,0.04],[51.30,0.22],[51.34,0.0],[51.38,0.48],[51.40,0.08],[51.44,0.30],[51.46,0.0],[51.50,0.38],
  [51.52,0.08],[51.56,0.0],[51.60,0.35],[51.62,0.08],[51.66,0.0],[51.70,0.50],[51.72,0.70],[51.74,0.40],
  [51.76,0.80],[51.78,0.20],[51.80,0.55],[51.82,0.08],[51.86,0.30],[51.88,0.0],[51.92,0.20],[51.94,0.0],
  [52.00,0.0],[52.10,0.04],[52.20,0.0],[52.30,0.08],[52.34,0.25],[52.36,0.0],[52.40,0.45],[52.42,0.15],
  [52.44,0.65],[52.46,0.08],[52.48,0.80],[52.50,0.25],[52.52,1.10],[52.54,0.35],[52.56,0.90],[52.58,0.15],
  [52.60,0.55],[52.62,0.08],[52.64,0.40],[52.66,0.0],[52.70,0.25],[52.72,0.0],[52.76,0.20],[52.78,0.0],
  [52.82,0.30],[52.84,0.08],[52.88,0.22],[52.90,0.0],[52.95,0.15],[53.00,0.0],[53.30,0.04],[53.50,0.0],
  [53.70,0.10],[53.75,0.0],[53.80,0.14],[53.85,0.02],[53.90,0.10],[53.95,0.0],[54.00,0.06],[54.10,0.0],
  [55.00,0.02],[56.00,0.0]];

// panel titles ("^" marks a superscript piece)
var panelTitles = [
  ["Magnetic field (10", "^3", " gauss)"],
  ["Velocity (10", "^2", " km s", "^\u22121", ")"],
  ["Area (10", "^18", " cm", "^2", ")"],
  ["Electric field (10", "^2", " V cm", "^\u22121", ")"],
  ["Flux reconnection rate (10", "^18", " Mx s", "^\u22121", ")"],
  ["Energy release rate (10", "^29", " erg s", "^\u22121", ")"]
];
var panelSeries = [magData, velData, areaData, efieldData, fluxData, energyData];
var panelMax = [0.9, 2.26, 0.9, 1.08, 1.35, 3.65];
var panelMajor = [
  [0, 0.2, 0.4, 0.6, 0.8],
  [0, 0.5, 1.0, 1.5, 2.0],
  [0, 0.2, 0.4, 0.6, 0.8],
  [0, 0.2, 0.4, 0.6, 0.8, 1.0],
  [0, 0.2, 0.4, 0.6, 0.8, 1.0, 1.2],
  [0, 1, 2, 3]
];
var panelLabelFmt = [".1f", ".1f", ".1f", ".1f", ".1f", "d"];
var panelMinorStep = [0.05, 0.1, 0.05, 0.05, 0.05, 0.1];
var titleWidth = [415, 338, 253, 415, 580, 541];

// ---- layout ----
var W = 1104, H = 1377;
var plotLeft = 65.5, plotRight = 1080;
var plotTop = 45, panelH = 210.8;
var nPanels = panelSeries.length;
var plotBottom = plotTop + nPanels * panelH;

var svg = d3.select("body").append("svg")
  .attr("width", W)
  .attr("height", H);
svg.append("rect").attr("width", W).attr("height", H).attr("fill", "#fff");

var x = d3.scaleLinear().domain([41, 56.04]).range([plotLeft, plotRight]);
var colorOf = d3.scaleLinear().domain(colorTimes).range(colorValues)
  .interpolate(d3.interpolateRgb).clamp(true);

var bins = [];
for (var b = 0; b < histCounts.length; b++) {
  if (histCounts[b] > 0) bins.push({t0: histEdges[b], t1: histEdges[b + 1], c: histCounts[b]});
}

//dashed event lines go underneath everything
svg.selectAll("line.marker")
  .data(markerTimes)
  .enter()
  .append("line")
  .attr("x1", function(d) { return x(d); })
  .attr("x2", function(d) { return x(d); })
  .attr("y1", plotTop)
  .attr("y2", plotBottom)
  .attr("stroke", "#8a8a8a")
  .attr("stroke-width", 2)
  .attr("stroke-dasharray", "14,10");

//marker labels t1..t4
markerTimes.forEach(function(t, i) {
  var lab = svg.append("text")
    .attr("x", x(t) - 1)
    .attr("y", 33)
    .attr("text-anchor", "middle")
    .attr("font-size", 25);
  lab.append("tspan").text("t");
  lab.append("tspan").attr("font-size", 17).attr("dy", 5).text(markerSubs[i]);
});

//draw the six panels
for (var i = 0; i < nPanels; i++) {
  drawPanel(i);
}

function drawPanel(i) {
  var y0 = plotTop + i * panelH;
  var y1 = y0 + panelH;
  var y = d3.scaleLinear().domain([0, panelMax[i]]).range([y1, y0]);
  var hy = d3.scaleLinear().domain([0, histFull]).range([y1, y0]);

  var g = svg.append("g");
  var clipId = "clip" + i;
  g.append("clipPath").attr("id", clipId)
    .append("rect")
    .attr("x", plotLeft).attr("y", y0)
    .attr("width", plotRight - plotLeft).attr("height", panelH);

  //grey histogram
  g.selectAll("rect.hist")
    .data(bins)
    .enter()
    .append("rect")
    .attr("x", function(d) { return x(d.t0); })
    .attr("width", function(d) { return x(d.t1) - x(d.t0); })
    .attr("y", function(d) { return hy(d.c); })
    .attr("height", function(d) { return y1 - hy(d.c); })
    .attr("fill", "#c8c8c8")
    .attr("shape-rendering", "crispEdges");

  //colour-coded curve, one segment at a time
  var data = panelSeries[i];
  var segs = [];
  for (var k = 0; k < data.length - 1; k++) segs.push([data[k], data[k + 1]]);
  var lines = g.append("g").attr("clip-path", "url(#" + clipId + ")");
  lines.selectAll("line")
    .data(segs)
    .enter()
    .append("line")
    .attr("x1", function(d) { return x(d[0][0]); })
    .attr("y1", function(d) { return y(d[0][1]); })
    .attr("x2", function(d) { return x(d[1][0]); })
    .attr("y2", function(d) { return y(d[1][1]); })
    .attr("stroke", function(d) { return colorOf((d[0][0] + d[1][0]) / 2); })
    .attr("stroke-width", 1.25)
    .attr("stroke-linecap", "round");

  if (i === 0) {
    lines.selectAll("line.black")
      .data(magBlackSegs)
      .enter()
      .append("line")
      .attr("x1", function(d) { return x(d[0]); })
      .attr("x2", function(d) { return x(d[1]); })
      .attr("y1", y(magBlackLevel))
      .attr("y2", y(magBlackLevel))
      .attr("stroke", "#111")
      .attr("stroke-width", 1.6);
  }

  //frame
  g.append("rect")
    .attr("x", plotLeft).attr("y", y0)
    .attr("width", plotRight - plotLeft).attr("height", panelH)
    .attr("fill", "none").attr("stroke", "#111").attr("stroke-width", 2);

  //y ticks, both sides, pointing inwards
  var minors = d3.range(0, panelMax[i] + 1e-9, panelMinorStep[i]);
  var ticks = g.append("g").attr("stroke", "#111").attr("stroke-width", 2);
  minors.forEach(function(v) {
    var yy = y(v);
    ticks.append("line").attr("x1", plotLeft).attr("x2", plotLeft + 10).attr("y1", yy).attr("y2", yy);
    ticks.append("line").attr("x1", plotRight).attr("x2", plotRight - 10).attr("y1", yy).attr("y2", yy);
  });
  panelMajor[i].forEach(function(v) {
    var yy = y(v);
    ticks.append("line").attr("x1", plotLeft).attr("x2", plotLeft + 18).attr("y1", yy).attr("y2", yy);
    ticks.append("line").attr("x1", plotRight).attr("x2", plotRight - 18).attr("y1", yy).attr("y2", yy);
  });

  //x ticks on top and bottom of the panel
  xTickValues.forEach(function(v) {
    var xx = x(v);
    ticks.append("line").attr("x1", xx).attr("x2", xx).attr("y1", y1).attr("y2", y1 - 7);
    ticks.append("line").attr("x1", xx).attr("x2", xx).attr("y1", y0).attr("y2", y0 + 7);
  });

  //y tick labels
  var fmt = d3.format(panelLabelFmt[i]);
  g.selectAll("text.ylab")
    .data(panelMajor[i])
    .enter()
    .append("text")
    .attr("x", 58)
    .attr("y", function(d) { return d === 0 ? y(d) - 8 : y(d); })
    .attr("dy", "0.36em")
    .attr("text-anchor", "end")
    .attr("font-size", 21)
    .text(function(d) { return fmt(d); });

  //panel title
  var t = g.append("text")
    .attr("x", 1043)
    .attr("y", y0 + 51)
    .attr("text-anchor", "end")
    .attr("font-size", 25)
    .attr("textLength", titleWidth[i])
    .attr("lengthAdjust", "spacing");
  var raised = false;
  panelTitles[i].forEach(function(part) {
    if (part.charAt(0) === "^") {
      t.append("tspan").attr("font-size", 16).attr("dy", -11).text(part.slice(1));
      raised = true;
    } else {
      t.append("tspan").attr("dy", raised ? 11 : 0).text(part);
      raised = false;
    }
  });
}

//bottom axis labels
svg.selectAll("text.xlab")
  .data(xTickValues)
  .enter()
  .append("text")
  .attr("x", function(d) { return x(d); })
  .attr("y", plotBottom + 36)
  .attr("text-anchor", "middle")
  .attr("font-size", 21)
  .text(function(d) { return d; });

svg.append("text")
  .attr("x", 571)
  .attr("y", plotBottom + 63)
  .attr("text-anchor", "middle")
  .attr("font-size", 21)
  .attr("textLength", 268)
  .attr("lengthAdjust", "spacing")
  .text(xTitle);
</script>
</body>
</html>
